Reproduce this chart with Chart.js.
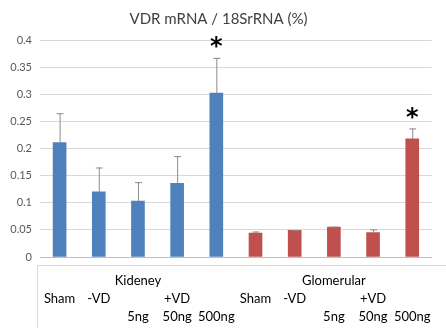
<!DOCTYPE html>
<html>
<head>
<meta charset="utf-8">
<script src="https://cdn.jsdelivr.net/npm/chart.js@4"></script>
<style>
    html, body { margin: 0; padding: 0; background: #fff; }
    #wrap { width: 446px; height: 328px; }
</style>
</head>
<body>
<div id="wrap"><canvas id="vdrChart"></canvas></div>
<script>
// group / sub-group labels, one entry per bar (3 rows each)
const groupRow = ["", "", "Kideney", "", "", "", "", "Glomerular", "", ""]
const treatRow = ["Sham", "-VD", "", "+VD", "", "Sham", "-VD", "", "+VD", ""]
const doseRow = ["", "", "5ng", "50ng", "500ng", "", "", "5ng", "50ng", "500ng"]

const values = [0.211, 0.120, 0.103, 0.136, 0.302, 0.044, 0.049, 0.055, 0.045, 0.218]
const errors = [0.054, 0.045, 0.035, 0.050, 0.065, 0.003, 0.001, 0.001, 0.006, 0.019]
const significant = [false, false, false, false, true, false, false, false, false, true]
const barColors = ["#4f81bd", "#4f81bd", "#4f81bd", "#4f81bd", "#4f81bd",
    "#c0504d", "#c0504d", "#c0504d", "#c0504d", "#c0504d"]

const labels = values.map((_, i) => [groupRow[i], treatRow[i], doseRow[i]])

const errorBarPlugin = {
    id: "errorBars",
    afterDatasetsDraw(chart) {
        const { ctx, scales: { y } } = chart
        const meta = chart.getDatasetMeta(0)
        ctx.save()
        meta.data.forEach((bar, i) => {
            const yTop = y.getPixelForValue(values[i] + errors[i])
            const yVal = y.getPixelForValue(values[i])
            ctx.strokeStyle = "#8c8c8c"
            ctx.lineWidth = 1
            ctx.beginPath()
            ctx.moveTo(bar.x + 0.5, yVal)
            ctx.lineTo(bar.x + 0.5, yTop)
            ctx.moveTo(bar.x - 3, yTop + 0.5)
            ctx.lineTo(bar.x + 4, yTop + 0.5)
            ctx.stroke()
            if (significant[i]) {
                ctx.fillStyle = "#000"
                ctx.font = "bold 24px 'DejaVu Sans'"
                ctx.textAlign = "center"
                ctx.textBaseline = "middle"
                ctx.fillText("*", bar.x, yTop - 10)
            }
        })
        ctx.restore()
    },
    afterDraw(chart) {
        const { ctx, chartArea } = chart
        ctx.save()
        ctx.strokeStyle = "#d9d9d9"
        ctx.lineWidth = 1
        ctx.beginPath()
        ctx.moveTo(37.5, chart.height)
        ctx.lineTo(37.5, chartArea.bottom + 8.5)
        ctx.lineTo(chart.width, chartArea.bottom + 8.5)
        ctx.stroke()
        ctx.restore()
    }
}

const vdrChart = new Chart(document.getElementById("vdrChart"), {
    type: "bar",
    data: {
        labels,
        datasets: [{
            data: values,
            backgroundColor: barColors,
            barThickness: 13
        }]
    },
    options: {
        responsive: true,
        maintainAspectRatio: false,
        animation: false,
        layout: { padding: { left: 0, right: 9, top: 8, bottom: 0 } },
        plugins: {
            legend: { display: false },
            tooltip: { enabled: false },
            title: {
                display: true,
                text: "VDR mRNA / 18SrRNA (%)",
                color: "#404040",
                font: { family: "Lato", size: 15, weight: "normal" },
                padding: { top: 2, bottom: 12 }
            }
        },
        scales: {
            x: {
                afterFit(scale) { scale.height = 71 },
                grid: { display: false, drawTicks: false },
                border: { color: "#bfbfbf" },
                ticks: {
                    color: "#000",
                    font: { family: "Lato", size: 13, lineHeight: 1.38 },
                    padding: 15,
                    maxRotation: 0,
                    autoSkip: false
                }
            },
            y: {
                min: 0,
                max: 0.4,
                afterFit(scale) { scale.width = 40 },
                grid: { color: "#d9d9d9", drawTicks: false },
                border: { display: false },
                ticks: {
                    stepSize: 0.05,
                    color: "#595959",
                    padding: 8,
                    font: { family: "Lato", size: 11 },
                    callback: (v) => String(Math.round(v * 100) / 100)
                }
            }
        }
    },
    plugins: [errorBarPlugin]
})
</script>
</body>
</html>
